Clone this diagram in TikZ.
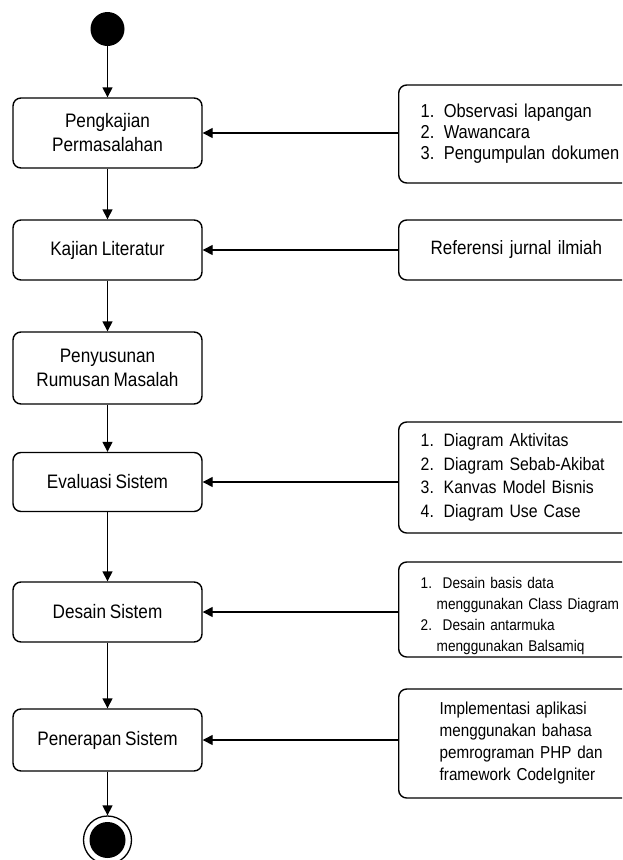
\documentclass[tikz,border=0pt]{standalone}
\usepackage{fontspec}
\setmainfont{Liberation Sans}[FakeStretch=0.88,WordSpace=0.8]
\usetikzlibrary{arrows.meta}
\begin{document}
\begin{tikzpicture}[x=1pt,y=-1pt,
 act/.style={draw, line width=1.4pt, rounded corners=8pt, minimum width=189pt, align=center, font=\fontsize{19.5}{24}\selectfont, inner sep=0pt, text=black},
 note/.style={draw, line width=1.4pt, rounded corners=8pt, text width=260pt, inner xsep=22pt, inner ysep=0pt, align=left, anchor=west, text=black},
 flow/.style={line width=1.4pt, -{Triangle[length=10pt,width=10pt]}}]
\useasboundingbox (0,0) rectangle (622,860);
\fill[white] (0,0) rectangle (622,860);
\begin{scope}
\clip (0,0) rectangle (622,860);
\node[circle, fill=black, minimum size=34pt, inner sep=0pt] (start) at (107.5,29) {};
\node[act, minimum height=70pt] (b1) at (107.5,133) {Pengkajian\\Permasalahan};
\node[act, minimum height=60pt] (b2) at (107.5,250) {Kajian Literatur};
\node[act, minimum height=72pt] (b3) at (107.5,368) {Penyusunan\\Rumusan Masalah};
\node[act, minimum height=59pt] (b4) at (107.5,482) {Evaluasi Sistem};
\node[act, minimum height=60pt] (b5) at (107.5,612) {Desain Sistem};
\node[act, minimum height=62pt] (b6) at (107.5,740) {Penerapan Sistem};
\node[circle, draw, line width=1.3pt, minimum size=48pt, inner sep=0pt] (end) at (107.5,840) {};
\node[circle, fill=black, minimum size=36pt, inner sep=0pt] (endin) at (end.center) {};

\node[note, minimum height=98pt, font=\fontsize{18.7}{21}\selectfont] (r1) at (398,134) {1. Observasi lapangan\\2. Wawancara\\3. Pengumpulan dokumen};
\node[note, minimum height=60pt, inner xsep=32pt, font=\fontsize{19.3}{22}\selectfont] (r2) at (398,250) {Referensi jurnal ilmiah};
\node[note, minimum height=111pt, font=\fontsize{18}{23.5}\selectfont] (r3) at (398,477.5) {\makebox[23pt][l]{1.}Diagram Aktivitas\\\makebox[23pt][l]{2.}Diagram Sebab-Akibat\\\makebox[23pt][l]{3.}Kanvas Model Bisnis\\\makebox[23pt][l]{4.}Diagram Use Case};
\node[note, minimum height=95pt, font=\fontsize{15.5}{21}\selectfont] (r4) at (398,609.5) {\rule{0pt}{24pt}\makebox[22pt][l]{1.}Desain basis data\\\hspace*{16pt}menggunakan Class Diagram\\\makebox[22pt][l]{2.}Desain antarmuka\\\hspace*{16pt}menggunakan Balsamiq};
\node[note, minimum height=109pt, inner xsep=41pt, font=\fontsize{17.3}{22}\selectfont] (r5) at (398,743.5) {Implementasi aplikasi\\menggunakan bahasa\\pemrograman PHP dan\\framework CodeIgniter};

\draw[flow] (start) -- (b1);
\draw[flow] (b1) -- (b2);
\draw[flow] (b2) -- (b3);
\draw[flow] (b3) -- (b4);
\draw[flow] (b4) -- (b5);
\draw[flow] (b5) -- (b6);
\draw[flow] (b6) -- (end);

\draw[flow] (r1.west |- b1.east) -- (b1.east);
\draw[flow] (r2.west |- b2.east) -- (b2.east);
\draw[flow] (r3.west |- b4.east) -- (b4.east);
\draw[flow] (r4.west |- b5.east) -- (b5.east);
\draw[flow] (r5.west |- b6.east) -- (b6.east);
\end{scope}
\end{tikzpicture}
\end{document}
